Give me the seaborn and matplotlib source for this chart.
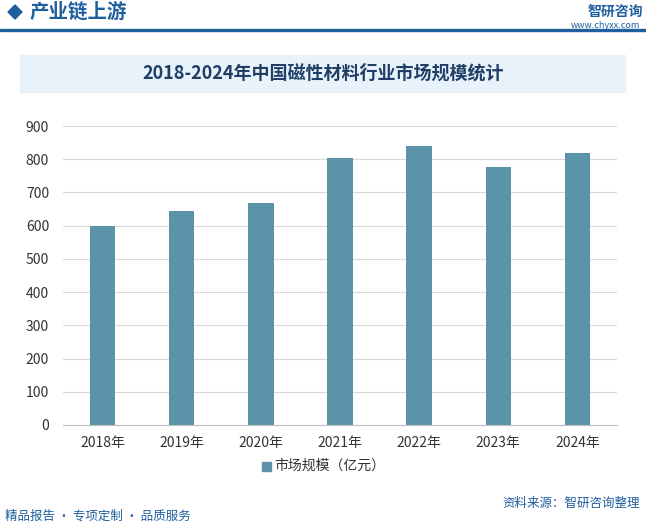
import matplotlib
matplotlib.use("Agg")
import matplotlib.pyplot as plt
import seaborn as sns
import pandas as pd
from matplotlib.patches import Rectangle, Polygon

years = ["2018年", "2019年", "2020年", "2021年", "2022年", "2023年", "2024年"]
values = [598, 643, 667, 803, 840, 776, 818]
yticks = [0, 100, 200, 300, 400, 500, 600, 700, 800, 900]

plt.rcParams["font.family"] = "Noto Sans CJK SC"
W, H = 646, 524
fig = plt.figure(figsize=(W/100, H/100), dpi=100)

df = pd.DataFrame({"year": years, "v": values})
ax = fig.add_axes([63/W, 1-425/H, (617-63)/W, (425-126)/H])
sns.barplot(data=df, x="year", y="v", color="#5b93a9", saturation=1, width=0.32, ax=ax)
ax.set_ylim(0, 900)
ax.set_yticks(yticks)
ax.set_xlabel(""); ax.set_ylabel("")
ax.grid(axis="y", color="#d9d9d9", lw=0.8)
ax.set_axisbelow(True)
for s in ["top", "right", "left"]:
    ax.spines[s].set_visible(False)
ax.spines["bottom"].set_color("#bfbfbf")
ax.tick_params(length=0, labelsize=10, colors="#333333")
ax.tick_params(axis="x", pad=8)
ax.tick_params(axis="y", pad=10)

# header
fig.patches.append(Polygon([[8/W, 1-12/H], [15/W, 1-5/H], [22/W, 1-12/H], [15/W, 1-19/H]],
                           closed=True, transform=fig.transFigure, color="#1f5f9e"))
fig.text(30/W, 1-12/H, "产业链上游", fontsize=14, color="#1f5f9e", va="center", weight="bold")
fig.patches.append(Rectangle((0, 1-31/H), 1, 1.5/H, transform=fig.transFigure, color="#1f5f9e"))
fig.text(588/W, 1-12/H, "智研咨询", fontsize=10, color="#1f5f9e", va="center", weight="bold")
fig.text(640/W, 1-26/H, "www.chyxx.com", fontsize=6.5, color="#1f5f9e", va="center", ha="right")

# title box
fig.patches.append(Rectangle((20/W, 1-92/H), 605/W, 37/H, transform=fig.transFigure, color="#e8f2fa"))
fig.text(323/W, 1-73/H, "2018-2024年中国磁性材料行业市场规模统计", fontsize=13, weight="bold",
         color="#1f3f66", ha="center", va="center")

# legend
fig.patches.append(Rectangle((262/W, 1-471/H), 9/W, 9/H, transform=fig.transFigure, color="#5b93a9"))
fig.text(274/W, 1-466/H, "市场规模（亿元）", fontsize=10, color="#333333", va="center")

# footer
fig.text(5/W, 1-516/H, "精品报告 · 专项定制 · 品质服务", fontsize=9, color="#1f5f9e", va="center")
fig.text(640/W, 1-503/H, "资料来源：智研咨询整理", fontsize=9, color="#1f5f9e", va="center", ha="right")

fig.savefig("out.png", dpi=100)
